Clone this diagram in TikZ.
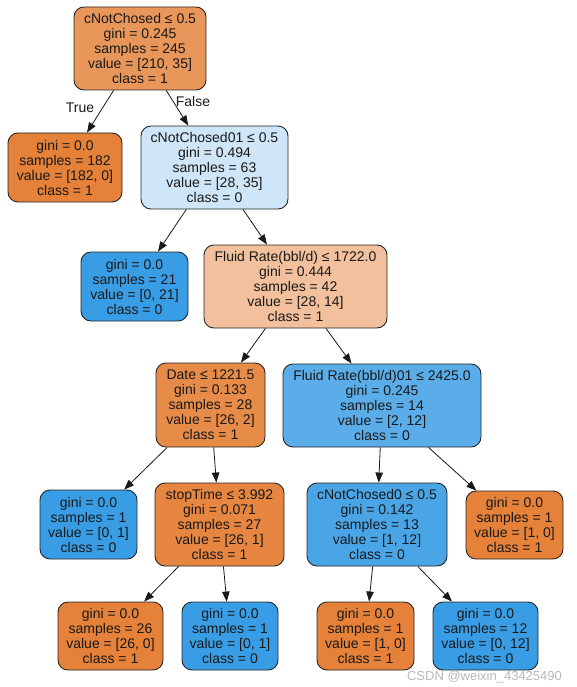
\documentclass[tikz,border=0pt]{standalone}
\usepackage{fontspec}
\setmainfont{Liberation Sans}
\usetikzlibrary{arrows.meta}
\definecolor{cRoot}{RGB}{233,150,90}
\definecolor{cOrange}{RGB}{229,129,57}
\definecolor{cLightBlue}{RGB}{206,230,248}
\definecolor{cBlue}{RGB}{57,157,229}
\definecolor{cFluid}{RGB}{242,192,156}
\definecolor{cDate}{RGB}{231,139,72}
\definecolor{cFluidB}{RGB}{90,173,233}
\definecolor{cStop}{RGB}{230,134,64}
\definecolor{cNotB}{RGB}{74,165,231}
\definecolor{cMark}{RGB}{185,185,185}
\begin{document}
\begin{tikzpicture}[x=1pt,y=-1pt,
  treenode/.style={draw=black!85, line width=0.9pt, rounded corners=10pt,
    align=center, inner sep=0pt, font=\fontsize{14}{15}\selectfont, text=black!90},
  edge/.style={draw=black!90, line width=0.8pt, -{Triangle[length=10pt,width=7.5pt]}},
  elabel/.style={font=\fontsize{14}{15}\selectfont, text=black!90}
]
\useasboundingbox (0,0) rectangle (577,687);
\fill[white] (0,0) rectangle (577,687);

\node[treenode, fill=cRoot, minimum width=132pt, minimum height=83pt] (root) at (140,48.5)
  {cNotChosed ≤ 0.5\\gini = 0.245\\samples = 245\\value = [210, 35]\\class = 1};
\node[treenode, fill=cOrange, minimum width=114pt, minimum height=69pt] (la) at (65,167.5)
  {gini = 0.0\\samples = 182\\value = [182, 0]\\class = 1};
\node[treenode, fill=cLightBlue, minimum width=147pt, minimum height=83pt] (n01) at (214.5,167.5)
  {cNotChosed01 ≤ 0.5\\gini = 0.494\\samples = 63\\value = [28, 35]\\class = 0};
\node[treenode, fill=cBlue, minimum width=107pt, minimum height=69pt] (l21) at (134.5,286.5)
  {gini = 0.0\\samples = 21\\value = [0, 21]\\class = 0};
\node[treenode, fill=cFluid, minimum width=183pt, minimum height=83pt] (fluid) at (295.5,286.5)
  {Fluid Rate(bbl/d) ≤ 1722.0\\gini = 0.444\\samples = 42\\value = [28, 14]\\class = 1};
\node[treenode, fill=cDate, minimum width=109pt, minimum height=84pt] (date) at (210.5,405)
  {Date ≤ 1221.5\\gini = 0.133\\samples = 28\\value = [26, 2]\\class = 1};
\node[treenode, fill=cFluidB, minimum width=198pt, minimum height=83pt] (fluidb) at (382,405.5)
  {Fluid Rate(bbl/d)01 ≤ 2425.0\\gini = 0.245\\samples = 14\\value = [2, 12]\\class = 0};
\node[treenode, fill=cBlue, minimum width=97pt, minimum height=69pt] (lb) at (88.5,524.5)
  {gini = 0.0\\samples = 1\\value = [0, 1]\\class = 0};
\node[treenode, fill=cStop, minimum width=129pt, minimum height=83pt] (stop) at (219.5,524.5)
  {stopTime ≤ 3.992\\gini = 0.071\\samples = 27\\value = [26, 1]\\class = 1};
\node[treenode, fill=cNotB, minimum width=140pt, minimum height=83pt] (cn0) at (377,524.5)
  {cNotChosed0 ≤ 0.5\\gini = 0.142\\samples = 13\\value = [1, 12]\\class = 0};
\node[treenode, fill=cOrange, minimum width=97pt, minimum height=68pt] (le) at (514.5,525)
  {gini = 0.0\\samples = 1\\value = [1, 0]\\class = 1};
\node[treenode, fill=cOrange, minimum width=105pt, minimum height=68pt] (lc) at (110.5,636)
  {gini = 0.0\\samples = 26\\value = [26, 0]\\class = 1};
\node[treenode, fill=cBlue, minimum width=96pt, minimum height=68pt] (ld) at (230,636)
  {gini = 0.0\\samples = 1\\value = [0, 1]\\class = 0};
\node[treenode, fill=cOrange, minimum width=97pt, minimum height=68pt] (lf) at (365.5,636)
  {gini = 0.0\\samples = 1\\value = [1, 0]\\class = 1};
\node[treenode, fill=cBlue, minimum width=105pt, minimum height=68pt] (lg) at (485.5,636)
  {gini = 0.0\\samples = 12\\value = [0, 12]\\class = 0};

\draw[edge] (root) -- (la);
\draw[edge] (root) -- (n01);
\draw[edge] (n01) -- (l21);
\draw[edge] (n01) -- (fluid);
\draw[edge] (fluid) -- (date);
\draw[edge] (fluid) -- (fluidb);
\draw[edge] (date) -- (lb);
\draw[edge] (date) -- (stop);
\draw[edge] (fluidb) -- (cn0);
\draw[edge] (fluidb) -- (le);
\draw[edge] (stop) -- (lc);
\draw[edge] (stop) -- (ld);
\draw[edge] (cn0) -- (lf);
\draw[edge] (cn0) -- (lg);

\node[elabel] (ltrue) at (80,108) {True};
\node[elabel] (lfalse) at (193,101) {False};

\node[font=\fontsize{13}{14}\selectfont, text=cMark] (mark) at (484.5,677) {CSDN @weixin\_43425490};
\end{tikzpicture}
\end{document}
